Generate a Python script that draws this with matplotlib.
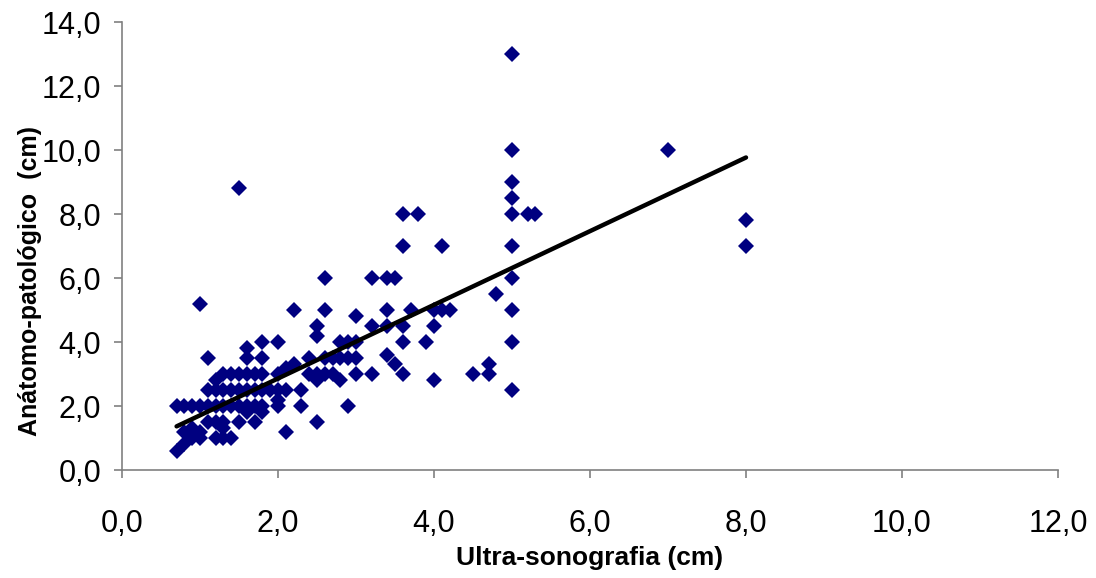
import numpy as np
import matplotlib
matplotlib.use("Agg")
import matplotlib.pyplot as plt
from matplotlib.ticker import FuncFormatter

# Ultra-sonografia (cm) vs Anátomo-patológico (cm)
us = [0.7, 0.8, 0.9, 0.8, 0.9, 1.0, 1.0,
      0.7, 0.8, 0.9, 1.0, 1.1, 1.2, 1.3, 1.4, 1.5, 1.6, 1.7, 1.8,
      1.1, 1.2, 1.3, 1.4, 1.3, 1.3, 1.2, 1.5, 1.7, 1.8, 1.6,
      1.1, 1.2, 1.3, 1.4, 1.5, 1.6, 1.7, 1.8, 1.9,
      1.2, 1.3, 1.4, 1.5, 1.6, 1.7, 1.8,
      1.1, 1.6, 1.8, 1.6, 1.8, 2.0, 1.0, 1.5,
      2.0, 2.0, 2.0, 2.0, 2.1, 2.1, 2.2, 2.1, 2.2, 2.3, 2.3, 2.4, 2.4, 2.5,
      2.5, 2.5, 2.5, 2.5, 2.6, 2.6, 2.6, 2.6, 2.7, 2.7, 2.8, 2.8, 2.8, 2.9,
      2.9, 2.9, 3.0, 3.0, 3.0, 3.0, 3.2, 3.2, 3.2, 3.4, 3.5, 3.4, 3.4, 3.4,
      3.5, 3.6, 3.6, 3.6, 3.6, 3.6, 3.8, 3.7, 3.9, 4.0, 4.0, 4.1, 4.2, 4.1,
      4.0, 4.5, 4.7, 4.7, 4.8,
      5.0, 5.0, 5.0, 5.0, 5.0, 5.0, 5.0, 5.0, 5.0, 5.0, 5.2, 5.3,
      7.0, 8.0, 8.0]
ap = [0.6, 0.8, 1.0, 1.2, 1.3, 1.0, 1.2,
      2.0, 2.0, 2.0, 2.0, 2.0, 2.0, 2.0, 2.0, 2.0, 2.0, 2.0, 2.0,
      1.5, 1.0, 1.0, 1.0, 1.3, 1.5, 1.5, 1.5, 1.5, 1.8, 1.8,
      2.5, 2.5, 2.5, 2.5, 2.5, 2.5, 2.5, 2.5, 2.5,
      2.8, 3.0, 3.0, 3.0, 3.0, 3.0, 3.0,
      3.5, 3.5, 3.5, 3.8, 4.0, 4.0, 5.2, 8.8,
      2.0, 2.2, 2.5, 3.0, 2.5, 3.2, 3.3, 1.2, 5.0, 2.0, 2.5, 3.0, 3.5, 3.0,
      2.8, 4.5, 4.2, 1.5, 3.0, 3.5, 5.0, 6.0, 3.0, 3.5, 2.8, 3.5, 4.0, 4.0,
      3.5, 2.0, 3.5, 4.0, 3.0, 4.8, 3.0, 4.5, 6.0, 6.0, 6.0, 5.0, 4.5, 3.6,
      3.3, 3.0, 4.0, 4.5, 7.0, 8.0, 8.0, 5.0, 4.0, 4.5, 5.0, 5.0, 5.0, 7.0,
      2.8, 3.0, 3.3, 3.0, 5.5,
      2.5, 4.0, 5.0, 6.0, 7.0, 8.0, 8.5, 9.0, 10.0, 13.0, 8.0, 8.0,
      10.0, 7.8, 7.0]

# linear trend line as shown in the chart
trend_slope = 1.151
trend_intercept = 0.558

x_ticks = [0, 2, 4, 6, 8, 10, 12]
y_ticks = [0, 2, 4, 6, 8, 10, 12, 14]

plt.rcParams['font.family'] = ['Liberation Sans', 'DejaVu Sans']

fig = plt.figure(figsize=(10.96, 5.78), dpi=100)
ax = fig.add_axes([122/1096, 1 - 470/578, (1058-122)/1096, (470-22)/578])

ax.plot(us, ap, linestyle='none', marker='D', markersize=8,
        color='#000080', markeredgewidth=0, zorder=2)

xa = np.array(us)
xl = np.array([xa.min(), xa.max()])
ax.plot(xl, trend_slope * xl + trend_intercept, color='black', linewidth=3.2,
        solid_capstyle='round', zorder=3)

ax.set_xlim(0, 12)
ax.set_ylim(0, 14)
ax.set_xticks(x_ticks)
ax.set_yticks(y_ticks)
fmt = FuncFormatter(lambda v, p: f"{v:.1f}".replace('.', ','))
ax.xaxis.set_major_formatter(fmt)
ax.yaxis.set_major_formatter(fmt)
for s in ['top', 'right']:
    ax.spines[s].set_visible(False)
for s in ['left', 'bottom']:
    ax.spines[s].set_color('#808080')
    ax.spines[s].set_linewidth(1.2)
ax.tick_params(axis='both', direction='out', length=6, width=1.2,
               color='#808080', labelsize=22)
ax.tick_params(axis='y', pad=9)
ax.tick_params(axis='x', pad=22)
ax.set_xlabel('Ultra-sonografia (cm)', fontsize=19, fontweight='bold')
ax.xaxis.set_label_coords(0.5, (470 - 558) / 448)
ax.xaxis.label.set_verticalalignment('center')
ax.set_ylabel('Anátomo-patológico  (cm)', fontsize=18, fontweight='bold')
ax.yaxis.set_label_coords((30 - 122) / 936, (470 - 281) / 448)
ax.yaxis.label.set_verticalalignment('center')

fig.savefig('out.png', dpi=100)
